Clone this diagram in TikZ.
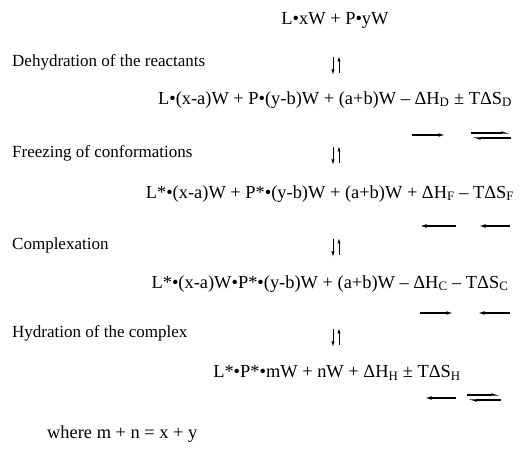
\documentclass[tikz,border=0pt]{standalone}
\usepackage{fontspec}
\setmainfont{Liberation Serif}
\usepackage{tikz}
\usetikzlibrary{arrows.meta}

\begin{document}
\begin{tikzpicture}[
  x=1pt,y=-1pt,
  font=\fontsize{17}{20}\selectfont,
  stepname/.style={anchor=west,inner sep=0pt},
  species/.style={anchor=center,inner sep=0pt,font=\fontsize{18.4}{22}\selectfont},
  updown/.style={-{Latex[length=5.5pt,width=3.4pt]},line width=1pt},
  sense/.style={-{Latex[length=6.5pt,width=3.8pt]},line width=1.2pt},
  equil/.style={-{Latex[harpoon,length=6.5pt,width=3.8pt]},line width=1.2pt}
]
\useasboundingbox (0,0) rectangle (520,470);

% species at each stage
\node[species] (start) at (335,20) {L•xW + P•yW};
\node[species] (dehyd) at (335,100)
  {L•(x-a)W + P•(y-b)W + (a+b)W – ΔH\textsubscript{D} ± TΔS\textsubscript{D}};
\node[species] (froz) at (330,194)
  {L*•(x-a)W + P*•(y-b)W + (a+b)W + ΔH\textsubscript{F} – TΔS\textsubscript{F}};
\node[species] (cplx) at (330,284)
  {L*•(x-a)W•P*•(y-b)W + (a+b)W – ΔH\textsubscript{C} – TΔS\textsubscript{C}};
\node[species] (hydr) at (337,373)
  {L*•P*•mW + nW + ΔH\textsubscript{H} ± TΔS\textsubscript{H}};

% step names
\node[stepname] (s1) at (12,62) {Dehydration of the reactants};
\node[stepname] (s2) at (12,153) {Freezing of conformations};
\node[stepname] (s3) at (12,245) {Complexation};
\node[stepname] (s4) at (12,333) {Hydration of the complex};
\node[stepname,font=\fontsize{18.4}{22}\selectfont] (note) at (47,434)
  {where m + n = x + y};

% reversible step arrows
\coordinate (v1a) at (333,57); \coordinate (v1b) at (333,75);
\coordinate (v1c) at (339,73); \coordinate (v1d) at (339,56);
\coordinate (v2a) at (333,147); \coordinate (v2b) at (333,165);
\coordinate (v2c) at (339,163); \coordinate (v2d) at (339,146);
\coordinate (v3a) at (333,239); \coordinate (v3b) at (333,257);
\coordinate (v3c) at (339,255); \coordinate (v3d) at (339,238);
\coordinate (v4a) at (333,329); \coordinate (v4b) at (333,347);
\coordinate (v4c) at (339,345); \coordinate (v4d) at (339,328);
\draw[updown] (v1a) -- (v1b);
\draw[updown] (v1c) -- (v1d);
\draw[updown] (v2a) -- (v2b);
\draw[updown] (v2c) -- (v2d);
\draw[updown] (v3a) -- (v3b);
\draw[updown] (v3c) -- (v3d);
\draw[updown] (v4a) -- (v4b);
\draw[updown] (v4c) -- (v4d);

% sign of enthalpy and entropy terms
\coordinate (dH1) at (412,135); \coordinate (dH2) at (445,135);
\coordinate (dS1) at (471,133); \coordinate (dS2) at (511,133);
\coordinate (dS3) at (511,138); \coordinate (dS4) at (471,138);
\draw[sense] (dH1) -- (dH2);
\draw[equil] (dS1) -- (dS2);
\draw[equil] (dS3) -- (dS4);

\coordinate (fH1) at (456,226); \coordinate (fH2) at (420,226);
\coordinate (fS1) at (510,226); \coordinate (fS2) at (479,226);
\draw[sense] (fH1) -- (fH2);
\draw[sense] (fS1) -- (fS2);

\coordinate (cH1) at (420,313); \coordinate (cH2) at (453,313);
\coordinate (cS1) at (510,313); \coordinate (cS2) at (478,313);
\draw[sense] (cH1) -- (cH2);
\draw[sense] (cS1) -- (cS2);

\coordinate (hH1) at (456,398); \coordinate (hH2) at (425,398);
\coordinate (hS1) at (467,395); \coordinate (hS2) at (501,395);
\coordinate (hS3) at (501,400); \coordinate (hS4) at (467,400);
\draw[sense] (hH1) -- (hH2);
\draw[equil] (hS1) -- (hS2);
\draw[equil] (hS3) -- (hS4);
\end{tikzpicture}
\end{document}
